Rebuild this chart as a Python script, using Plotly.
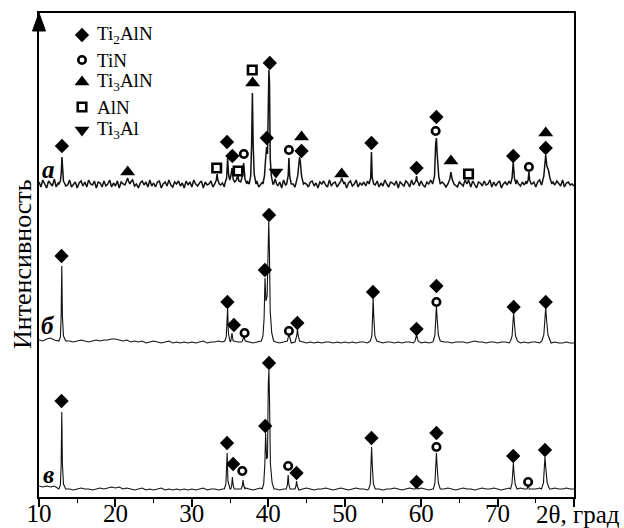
import plotly.graph_objects as go

# ---------------- data ----------------
# intensity units: arbitrary (screen-proportional), 2theta in degrees
TWO_THETA_START = 10.0

# baseline levels of the three patterns (stacked)
base_a, base_b, base_v = 313, 156, 8

# baseline noise, sample a (step 0.25 deg)
noise_a = [
    2, -3, 4, -1, -4, 3, 0, -2, 5, -3, 1, -4, 2, 3, -2, -1, 4, -3, 0, 2,
    -4, 1, 3, -2, 2, -3, 4, 0, -1, 3, -4, 2, 1, -3, 3, -2, 0, 4, -3, 1,
    -2, 3, -4, 2, 0, -1, 3, -3, 2, 4, -2, 0, -4, 1, 3, -1, 2, -3, 4, -2,
    1, -3, 2, 3, -4, 0, 2, -2, 4, -1, -3, 2, 0, 3, -2, 1, -4, 3, -1, 2,
    -3, 4, 0, -2, 1, 3, -4, 2, -1, 0, 3, -3, 2, -2, 4, -1, 1, -3, 2, 0,
    3, -2, -4, 1, 2, -3, 4, 0, -2, 3, -1, 2, -4, 1, 3, -3, 0, 2, -2, 4,
    -1, 1, -3, 3, 0, -2, 2, -4, 4, -1, 1, -2, 3, 0, -3, 2, -1, 4, -2, 1,
    0, -3, 2, 3, -2, 1, -4, 2, 0, 3, -1, -3, 4, -2, 1, 2, -3, 0, 3, -1,
    2, -4, 1, 3, -2, 0, 4, -3, 1, -1, 2, -2, 3, -4, 0, 2, -1, 3, -3, 1,
    -2, 4, 0, -3, 2, 1, -1, 3, -4, 2, 0, -2, 3, 1, -3, 4, -1, 0, 2, -2,
    3, -1, -3, 2, 0, 4, -2, 1, -4, 3, -1, 2, 0, -3, 4, -2, 1, 3, -1, -3,
    2, 0, -2, 4, -1, 1, -3, 3, 0, -4, 2, 1, -2, 3, -1, 0, 4, -3, 2, -2,
    1, 3, -4, 0, 2, -1, 3, -2, 1, -3, 4, 0, -2, 2, -1, 3, -4, 1, 0, 2,
    -3, 2, 4, -1, 0, -2, 3, 1, -4, 2, -1, 3, 0, -2, 4, -3, 1, 2, -1, 0,
    -2,
]
step_a = 0.25

# baseline noise, sample б (step 0.5 deg)
noise_b = [
    1, 0, 2, 3, 1, 0, -1, 1, 0, -1, 0, 1, 0, -1, 0, 1, 0, 1, 1, 2,
    2, 1, 0, 1, -1, 0, -1, 0, -2, -1, 0, -1, -2, -1, 0, -2, -1, -2, -1, -2,
    -1, -2, -1, 0, -2, -1, -1, 0, -1, -2, -1, 0, -1, -1, 0, -1, -2, -1, 0, -1,
    0, 0, -1, -2, -1, -1, -2, -1, 0, -1, -2, -1, -2, -1, -2, -1, -1, -2, -1, -2,
    -1, -2, -1, -2, -1, -1, -2, -1, -2, -1, -2, -1, -1, -2, -1, -2, -1, -1, -2, -1,
    -2, -1, -2, -1, -1, -2, -1, -1, -2, -1, -1, -1, -2, -1, 0, -1, -1, -2, -1, -1,
    -2, -1, -1, -2, -1, -1, -2, -1, -2, -1, -1, -2, -1, -2, -2, -1, -2, -2, -1, -2,
    -2,
]
step_b = 0.5

# baseline noise, sample в (step 0.5 deg)
noise_v = [
    3, 2, 3, 2, 3, 1, 0, 1, 0, -1, 0, 1, 0, 0, -1, 0, 1, 0, 1, 2,
    1, 2, 0, 1, 0, -1, 0, 1, -1, 0, -1, 0, 1, -1, 0, -1, 0, -1, 0, -1,
    0, -1, 0, 1, -1, 0, 0, -1, 0, 1, 0, -1, 0, 0, 1, 0, -1, 0, 1, 0,
    0, 1, 0, -1, 0, 1, 0, 0, -1, 0, 1, 0, -1, 0, 0, 1, 0, -1, 0, 1,
    0, -1, 0, 1, 0, 0, -1, 0, 1, 0, -1, 0, 0, 1, 0, -1, 0, 1, 0, 0,
    1, 0, -1, 0, 1, 0, 0, 1, 0, -1, 0, 1, 0, 0, -1, 0, 1, 0, 0, 1,
    0, -1, 0, 1, 0, 0, 1, 0, -1, 0, 0, 1, 0, -1, 0, 1, 0, 0, 1, 0,
    0,
]
step_v = 0.5

# peak profiles: (2theta vertices, height above baseline)
peaks_a = [
    ([12.6, 12.8, 12.92, 13.0, 13.08, 13.2, 13.4], [0, 3, 12, 27, 12, 3, 0]),
    ([21.3, 21.5, 21.6, 21.7, 21.9], [0, 3, 6, 3, 0]),
    ([33.0, 33.2, 33.3, 33.4, 33.6], [0, 4, 10, 4, 0]),
    ([34.3, 34.55, 34.68, 34.8, 34.95, 35.1, 35.25, 35.4, 35.6, 35.85, 36.0,
      36.15, 36.4, 36.6, 36.78, 36.95, 37.2],
     [0, 6, 26, 10, 4, 8, 16, 5, 2, 4, 9, 3, 2, 8, 21, 5, 0]),
    ([37.5, 37.7, 37.82, 37.92, 38.02, 38.15, 38.4], [0, 8, 40, 91, 40, 10, 0]),
    ([39.3, 39.5, 39.65, 39.78, 39.9, 40.0, 40.08, 40.16, 40.26, 40.4, 40.6],
     [0, 8, 25, 37, 30, 85, 114, 100, 25, 8, 0]),
    ([40.7, 40.9, 41.1], [0, 5, 0]),
    ([42.4, 42.6, 42.7, 42.8, 43.0], [0, 8, 26, 8, 0]),
    ([43.6, 43.85, 44.0, 44.1, 44.2, 44.35, 44.6], [0, 8, 20, 27, 22, 8, 0]),
    ([49.3, 49.5, 49.6, 49.7, 49.9], [0, 3, 6, 3, 0]),
    ([53.2, 53.4, 53.5, 53.6, 53.8], [0, 6, 32, 6, 0]),
    ([59.1, 59.3, 59.4, 59.5, 59.7], [0, 3, 8, 3, 0]),
    ([61.5, 61.75, 61.9, 62.0, 62.1, 62.3, 62.5], [0, 8, 40, 46, 30, 8, 0]),
    ([63.5, 63.75, 63.9, 64.05, 64.3], [0, 5, 12, 5, 0]),
    ([66.0, 66.2, 66.4], [0, 4, 0]),
    ([71.7, 71.9, 72.05, 72.2, 72.4], [0, 6, 22, 6, 0]),
    ([73.8, 74.0, 74.1, 74.2, 74.4], [0, 4, 12, 4, 0]),
    ([75.8, 76.05, 76.2, 76.3, 76.45, 76.65, 76.85, 77.1], [0, 8, 22, 29, 18, 14, 6, 0]),
]

peaks_b = [
    ([12.6, 12.8, 12.9, 12.98, 13.06, 13.2, 13.5], [0, 4, 25, 75, 25, 5, 0]),
    ([34.3, 34.5, 34.6, 34.68, 34.78, 34.95], [0, 4, 20, 33, 8, 0]),
    ([35.1, 35.25, 35.4], [0, 8, 0]),
    ([36.6, 36.8, 37.0], [0, 4, 0]),
    ([39.1, 39.3, 39.45, 39.57, 39.7, 39.85, 39.98, 40.06, 40.14, 40.25, 40.45, 40.7],
     [0, 5, 22, 63, 40, 45, 110, 119, 95, 30, 8, 0]),
    ([42.5, 42.7, 42.9], [0, 7, 0]),
    ([43.55, 43.72, 43.82, 43.92, 44.1], [0, 5, 12, 5, 0]),
    ([53.35, 53.55, 53.65, 53.72, 53.8, 53.95, 54.2], [0, 5, 25, 43, 25, 5, 0]),
    ([59.2, 59.4, 59.6], [0, 6, 0]),
    ([61.6, 61.8, 61.92, 62.0, 62.1, 62.25, 62.5], [0, 6, 25, 35, 22, 6, 0]),
    ([71.7, 71.9, 72.02, 72.1, 72.2, 72.35, 72.6], [0, 5, 20, 28, 18, 5, 0]),
    ([75.8, 76.05, 76.2, 76.3, 76.42, 76.6, 76.9], [0, 6, 22, 33, 20, 6, 0]),
]

peaks_v = [
    ([12.6, 12.8, 12.9, 12.98, 13.06, 13.2, 13.5], [0, 4, 25, 77, 25, 5, 0]),
    ([34.25, 34.45, 34.55, 34.62, 34.72, 34.9], [0, 5, 25, 36, 8, 0]),
    ([35.1, 35.22, 35.3, 35.4, 35.55], [0, 4, 12, 4, 0]),
    ([36.45, 36.6, 36.7, 36.8, 36.95], [0, 3, 9, 3, 0]),
    ([39.2, 39.4, 39.55, 39.65, 39.78, 39.9, 40.0, 40.08, 40.16, 40.28, 40.5, 40.75],
     [0, 5, 25, 56, 30, 32, 105, 119, 90, 25, 6, 0]),
    ([42.35, 42.5, 42.6, 42.7, 42.85], [0, 4, 14, 4, 0]),
    ([43.5, 43.62, 43.7, 43.8, 43.95], [0, 3, 8, 3, 0]),
    ([53.15, 53.35, 53.45, 53.52, 53.6, 53.75, 54.0], [0, 5, 25, 42, 25, 5, 0]),
    ([59.2, 59.4, 59.6], [0, 5, 0]),
    ([61.6, 61.8, 61.92, 62.0, 62.1, 62.25, 62.5], [0, 6, 26, 36, 22, 6, 0]),
    ([71.7, 71.88, 72.0, 72.07, 72.15, 72.3, 72.55], [0, 5, 18, 26, 16, 5, 0]),
    ([73.85, 74.0, 74.15], [0, 4, 0]),
    ([75.75, 76.0, 76.12, 76.2, 76.32, 76.5, 76.8], [0, 6, 24, 32, 20, 6, 0]),
]

# phase markers (2theta, level)
ti2aln_x = [13.0, 34.6, 35.3, 39.8, 40.2, 44.35, 53.5, 59.4, 62.0, 72.05, 76.3,
            12.95, 34.65, 35.5, 39.55, 40.1, 43.8, 53.7, 59.4, 62.0, 72.1, 76.3,
            12.95, 34.6, 35.4, 39.6, 40.1, 43.7, 53.5, 59.4, 62.0, 72.05, 76.2]
ti2aln_y = [351, 355, 341, 359, 434, 346, 354, 329, 380, 341, 349,
            241, 195, 172, 227, 282, 174, 205, 168, 211, 190, 195,
            96, 54, 33, 71, 134, 24, 59, 15, 64, 41, 47]
tin_x = [36.8, 42.7, 61.9, 74.1,
         36.9, 42.7, 62.0,
         36.6, 42.6, 62.0, 74.0]
tin_y = [343, 347, 366, 330,
         164, 166, 195,
         26, 31, 50, 15]
ti3aln_x = [21.6, 37.95, 44.35, 49.6, 63.9, 76.3]
ti3aln_y = [325, 414, 360, 323, 336, 364]
aln_x = [33.25, 36.05, 37.9, 66.2]
aln_y = [329, 326, 427, 323]
ti3al_x = [41.0, ]
ti3al_y = [325, ]

legend_names = ["Ti<sub>2</sub>AlN", "TiN", "Ti<sub>3</sub>AlN", "AlN", "Ti<sub>3</sub>Al"]
sample_labels = ["а", "б", "в"]
tick_values = [10, 20, 30, 40, 50, 60, 70, 80]
tick_labels = ["10", "20", "30", "40", "50", "60", "70", ""]
x_title = "2θ, град"
y_title = "Интенсивность"


def build(base, noise, step, peaks):
    pts = []
    windows = [(px[0], px[-1]) for px, _ in peaks]
    for i, n in enumerate(noise):
        x = TWO_THETA_START + i * step
        if any(lo <= x <= hi for lo, hi in windows):
            continue
        pts.append((x, base + n))
    for px, py in peaks:
        for x, h in zip(px, py):
            pts.append((x, base + h))
    pts.sort()
    return [p[0] for p in pts], [p[1] for p in pts]


FONT = "Liberation Serif"
fig = go.Figure()

for base, noise, step, peaks, w in [
    (base_a, noise_a, step_a, peaks_a, 1.5),
    (base_b, noise_b, step_b, peaks_b, 1.1),
    (base_v, noise_v, step_v, peaks_v, 1.1),
]:
    xs, ys = build(base, noise, step, peaks)
    fig.add_trace(go.Scatter(x=xs, y=ys, mode="lines",
                             line=dict(color="#111", width=w), showlegend=False,
                             hoverinfo="skip"))

marker_styles = [
    (ti2aln_x, ti2aln_y, dict(symbol="diamond", size=11, color="black")),
    (tin_x, tin_y, dict(symbol="circle-open", size=7.5, color="black", line=dict(width=2.6, color="black"))),
    (ti3aln_x, ti3aln_y, dict(symbol="triangle-up", size=13, color="black")),
    (aln_x, aln_y, dict(symbol="square-open", size=8.5, color="black", line=dict(width=2.6, color="black"))),
    (ti3al_x, ti3al_y, dict(symbol="triangle-down", size=13, color="black")),
]
for mx, my, ms in marker_styles:
    fig.add_trace(go.Scatter(x=mx, y=my, mode="markers", marker=ms,
                             showlegend=False, hoverinfo="skip", cliponaxis=False))

# ---------------- layout ----------------
L, R, T, B = 39, 50, 13, 31
W, H = 624, 528
pw, ph = W - L - R, H - T - B
X0, X1 = 10, 80
Y0, Y1 = 0, ph


def px_to_x(px):
    return X0 + (px - L) / pw * (X1 - X0)


def py_to_y(py):
    return Y0 + (H - B - py) / ph * (Y1 - Y0)


# legend (custom)
legend_rows_py = [35, 60, 82, 107, 130]
for (mx, my, ms), name, py in zip(marker_styles, legend_names, legend_rows_py):
    fig.add_trace(go.Scatter(x=[px_to_x(82)], y=[py_to_y(py)], mode="markers",
                             marker=ms, showlegend=False, hoverinfo="skip"))
    fig.add_annotation(x=px_to_x(95), y=py_to_y(py), text=name, showarrow=False,
                       xanchor="left", yanchor="middle",
                       font=dict(family=FONT, size=19, color="black"))

for lab, py in zip(sample_labels, [169, 325, 474]):
    fig.add_annotation(x=px_to_x(48), y=py_to_y(py), text=f"<b><i>{lab}</i></b>",
                       showarrow=False, xanchor="center", yanchor="middle",
                       font=dict(family=FONT, size=25, color="black"))

fig.add_annotation(x=(622 - L) / pw, y=-(514 - (H - B)) / ph, xref="paper", yref="paper",
                   text=x_title, showarrow=False, xanchor="right", yanchor="middle",
                   font=dict(family=FONT, size=25, color="black"))
fig.add_annotation(x=(22 - L) / pw, y=(H - B - 264) / ph, xref="paper", yref="paper",
                   text=y_title, textangle=-90, showarrow=False,
                   xanchor="center", yanchor="middle",
                   font=dict(family=FONT, size=26, color="black"))

# arrow head on the intensity axis
ax_half = 6.5 / pw
ay_base = 1 - 18 / ph
fig.add_shape(type="path", xref="paper", yref="paper",
              path=f"M 0 1 L {-ax_half} {ay_base} L {ax_half} {ay_base} Z",
              fillcolor="black", line=dict(color="black", width=1))

fig.update_layout(
    width=W, height=H,
    margin=dict(l=L, r=R, t=T, b=B, pad=0, autoexpand=False),
    paper_bgcolor="white", plot_bgcolor="white",
    font=dict(family=FONT, size=25, color="black"),
    xaxis=dict(range=[X0, X1], tickmode="array", tickvals=tick_values, ticktext=tick_labels,
               ticks="outside", ticklen=8, tickwidth=1.5, tickcolor="black",
               ticklabelstandoff=-15,
               showline=True, linewidth=1.6, linecolor="black", mirror=True,
               showgrid=False, zeroline=False, automargin=False,
               minor=dict(tickmode="linear", tick0=5, dtick=10, ticks="outside",
                          ticklen=4, tickwidth=1.3, tickcolor="black", showgrid=False),
               tickfont=dict(family=FONT, size=25, color="black")),
    yaxis=dict(range=[Y0, Y1], showticklabels=False, ticks="", showgrid=False,
               zeroline=False, showline=True, linewidth=2, linecolor="black", mirror=True,
               automargin=False),
)

fig.write_html("out.html", config={"displayModeBar": False},
               post_script="document.body.style.margin='0';")
